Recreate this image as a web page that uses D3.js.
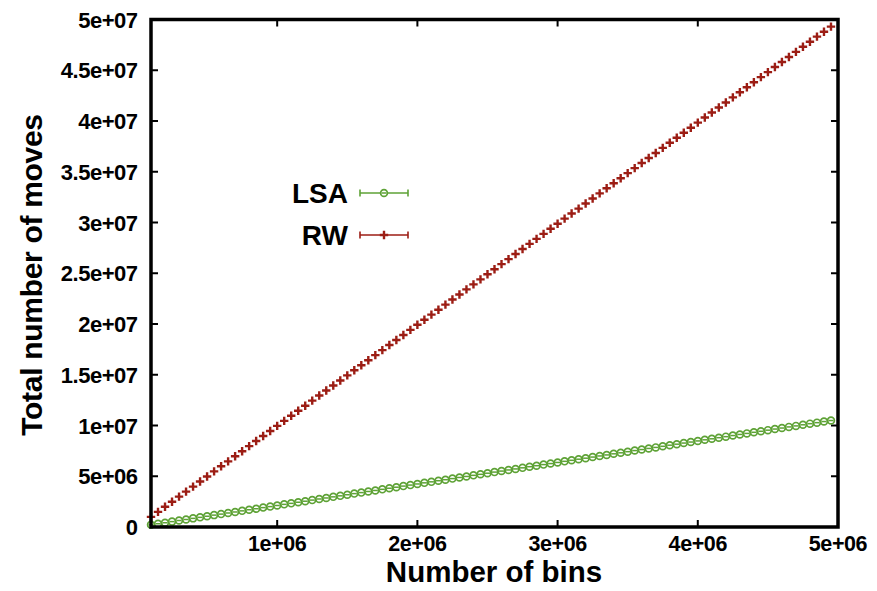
<!DOCTYPE html>
<html><head><meta charset="utf-8">
<script src="https://cdn.jsdelivr.net/npm/d3@7"></script>
<style>body{margin:0;background:#fff}svg text{font-family:"Liberation Sans",Arial,sans-serif;font-weight:bold}</style>
</head><body><svg id="c" width="877" height="591"></svg>
<script>
// number of bins (millions)
const bins = [0.10,0.15,0.20,0.25,0.30,0.35,0.40,0.45,0.50,0.55,0.60,0.65,0.70,0.75,0.80,0.85,0.90,0.95,1.00,1.05,1.10,1.15,1.20,1.25,1.30,1.35,1.40,1.45,1.50,1.55,1.60,1.65,1.70,1.75,1.80,1.85,1.90,1.95,2.00,2.05,2.10,2.15,2.20,2.25,2.30,2.35,2.40,2.45,2.50,2.55,2.60,2.65,2.70,2.75,2.80,2.85,2.90,2.95,3.00,3.05,3.10,3.15,3.20,3.25,3.30,3.35,3.40,3.45,3.50,3.55,3.60,3.65,3.70,3.75,3.80,3.85,3.90,3.95,4.00,4.05,4.10,4.15,4.20,4.25,4.30,4.35,4.40,4.45,4.50,4.55,4.60,4.65,4.70,4.75,4.80,4.85,4.90,4.95];
// total moves (millions)
const lsa = [0.21,0.32,0.42,0.53,0.64,0.74,0.85,0.95,1.06,1.17,1.27,1.38,1.48,1.59,1.70,1.80,1.91,2.01,2.12,2.23,2.33,2.44,2.54,2.65,2.76,2.86,2.97,3.07,3.18,3.29,3.39,3.50,3.60,3.71,3.82,3.92,4.03,4.13,4.24,4.35,4.45,4.56,4.66,4.77,4.88,4.98,5.09,5.19,5.30,5.41,5.51,5.62,5.72,5.83,5.94,6.04,6.15,6.25,6.36,6.47,6.57,6.68,6.78,6.89,7.00,7.10,7.21,7.31,7.42,7.53,7.63,7.74,7.84,7.95,8.06,8.16,8.27,8.37,8.48,8.59,8.69,8.80,8.90,9.01,9.12,9.22,9.33,9.43,9.54,9.65,9.75,9.86,9.96,10.07,10.18,10.28,10.39,10.49];
const rw = [1.00,1.49,1.99,2.49,2.99,3.49,3.98,4.48,4.98,5.48,5.98,6.47,6.97,7.47,7.97,8.47,8.96,9.46,9.96,10.46,10.96,11.45,11.95,12.45,12.95,13.45,13.94,14.44,14.94,15.44,15.94,16.43,16.93,17.43,17.93,18.43,18.92,19.42,19.92,20.42,20.92,21.41,21.91,22.41,22.91,23.41,23.90,24.40,24.90,25.40,25.90,26.39,26.89,27.39,27.89,28.39,28.88,29.38,29.88,30.38,30.88,31.37,31.87,32.37,32.87,33.37,33.86,34.36,34.86,35.36,35.86,36.35,36.85,37.35,37.85,38.35,38.84,39.34,39.84,40.34,40.84,41.33,41.83,42.33,42.83,43.33,43.82,44.32,44.82,45.32,45.82,46.31,46.81,47.31,47.81,48.31,48.80,49.30];
const xTicks = [1e6,2e6,3e6,4e6,5e6];
const xTickLabels = ["1e+06","2e+06","3e+06","4e+06","5e+06"];
const yTicks = [0,5e6,1e7,1.5e7,2e7,2.5e7,3e7,3.5e7,4e7,4.5e7,5e7];
const yTickLabels = ["0","5e+06","1e+07","1.5e+07","2e+07","2.5e+07","3e+07","3.5e+07","4e+07","4.5e+07","5e+07"];
const seriesNames = ["LSA","RW"];

const M = 1e6;
const svg = d3.select("#c");
const L=151, R=838, T=19.5, B=527;
const x = d3.scaleLinear().domain([1e5,5e6]).range([L,R]);
const y = d3.scaleLinear().domain([0,5e7]).range([B,T]);
const green="#5ea236", red="#9c1d14";

const g = svg.append("g");
xTicks.forEach((t,i)=>{
  g.append("line").attr("x1",x(t)).attr("x2",x(t)).attr("y1",B).attr("y2",B-7).attr("stroke","#000").attr("stroke-width",2);
  g.append("line").attr("x1",x(t)).attr("x2",x(t)).attr("y1",T).attr("y2",T+7).attr("stroke","#000").attr("stroke-width",2);
  g.append("text").attr("x",x(t)).attr("y",550.5).attr("text-anchor","middle").attr("font-size",21.5).attr("letter-spacing",-0.4).text(xTickLabels[i]);
});
yTicks.forEach((t,i)=>{
  g.append("line").attr("x1",L).attr("x2",L+7).attr("y1",y(t)).attr("y2",y(t)).attr("stroke","#000").attr("stroke-width",2);
  g.append("line").attr("x1",R).attr("x2",R-7).attr("y1",y(t)).attr("y2",y(t)).attr("stroke","#000").attr("stroke-width",2);
  g.append("text").attr("x",137.5).attr("y",y(t)+8).attr("text-anchor","end").attr("font-size",22).attr("letter-spacing",-0.5).text(yTickLabels[i]);
});

svg.append("defs").append("clipPath").attr("id","cl").append("rect").attr("x",L-5).attr("y",T).attr("width",R-L+5).attr("height",B-T+5);
const plot = svg.append("g").attr("clip-path","url(#cl)");

// LSA: open circles with zero-length error-bar caps
plot.selectAll("circle.l").data(lsa).enter().append("circle")
  .attr("cx",(d,i)=>x(bins[i]*M)).attr("cy",d=>y(d*M)).attr("r",3.4)
  .attr("fill","none").attr("stroke",green).attr("stroke-width",1.7);
plot.selectAll("path.lc").data(lsa).enter().append("path")
  .attr("d",(d,i)=>`M${x(bins[i]*M)-2.5},${y(d*M)}h5`)
  .attr("stroke",green).attr("stroke-width",1.5).attr("fill","none");
// RW: plus markers
plot.selectAll("path.r").data(rw).enter().append("path")
  .attr("d",(d,i)=>`M${x(bins[i]*M)-4.2},${y(d*M)}h8.4M${x(bins[i]*M)},${y(d*M)-4.2}v8.4`)
  .attr("stroke",red).attr("stroke-width",2.4).attr("fill","none");

// frame
svg.append("rect").attr("x",L).attr("y",T).attr("width",R-L).attr("height",B-T)
  .attr("fill","none").attr("stroke","#000").attr("stroke-width",3.5);

// axis titles
svg.append("text").attr("x",494).attr("y",582).attr("text-anchor","middle").attr("font-size",29.5).text("Number of bins");
svg.append("text").attr("transform","translate(42,275) rotate(-90)").attr("text-anchor","middle").attr("font-size",30).attr("letter-spacing",-0.3).text("Total number of moves");

// legend
const leg = [{n:seriesNames[0],c:green,y:193},{n:seriesNames[1],c:red,y:235}];
leg.forEach((d,i)=>{
  svg.append("text").attr("x",348).attr("y",d.y+10).attr("text-anchor","end").attr("font-size",28).text(d.n);
  svg.append("line").attr("x1",360).attr("x2",408).attr("y1",d.y).attr("y2",d.y).attr("stroke",d.c).attr("stroke-width",1.6);
  svg.append("line").attr("x1",360).attr("x2",360).attr("y1",d.y-3.5).attr("y2",d.y+3.5).attr("stroke",d.c).attr("stroke-width",1.6);
  svg.append("line").attr("x1",408).attr("x2",408).attr("y1",d.y-3.5).attr("y2",d.y+3.5).attr("stroke",d.c).attr("stroke-width",1.6);
  if(i===0) svg.append("circle").attr("cx",384).attr("cy",d.y).attr("r",3.4).attr("fill","#fff").attr("stroke",d.c).attr("stroke-width",1.7);
  if(i===0) svg.append("path").attr("d",`M381.5,${d.y}h5`).attr("stroke",d.c).attr("stroke-width",1.5);
  else svg.append("path").attr("d",`M379.8,${d.y}h8.4M384,${d.y-4.2}v8.4`).attr("stroke",d.c).attr("stroke-width",2.4);
});
</script></body></html>
